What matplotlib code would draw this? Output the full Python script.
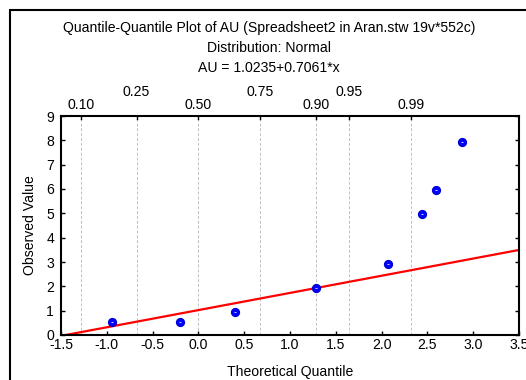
import matplotlib
matplotlib.use("Agg")
import matplotlib.pyplot as plt
import numpy as np
from matplotlib.patches import Rectangle

plt.rcParams['font.family'] = ['Liberation Sans', 'DejaVu Sans']

# data
theoretical = [-0.94, -0.20, 0.40, 1.28, 2.07, 2.44, 2.59, 2.88]
observed = [0.53, 0.53, 0.95, 1.95, 2.93, 4.97, 5.97, 7.95]
intercept, slope = 1.0235, 0.7061
prob_labels = ["0.10", "0.25", "0.50", "0.75", "0.90", "0.95", "0.99"]
prob_z = [-1.2816, -0.6745, 0.0, 0.6745, 1.2816, 1.6449, 2.3263]
x_ticks = [-1.5, -1.0, -0.5, 0.0, 0.5, 1.0, 1.5, 2.0, 2.5, 3.0, 3.5]
y_ticks = list(range(0, 10))

FS = 10.1
W, H = 526, 380
fig = plt.figure(figsize=(W / 100, H / 100), dpi=100)
ax = fig.add_axes([61 / W, 1 - 335 / H, (519 - 61) / W, (335 - 116) / H])

# outer frame
fig.patches.append(Rectangle((10 / W, -0.1), 1.2, 1 - 10 / H + 0.1, transform=fig.transFigure,
                             fill=False, edgecolor='black', linewidth=1.5, zorder=0))

for z in prob_z:
    ax.axvline(z, color='#c0c0c0', linestyle=(0, (3, 2)), linewidth=0.7, zorder=1)

xs = np.array([-1.5, 3.5])
ax.plot(xs, intercept + slope * xs, color='#ff0000', linewidth=1.6, zorder=2)
ax.scatter(theoretical, observed, s=34, color='#0000ff', edgecolors='#0000d0', linewidths=0.8, zorder=3)
ax.scatter(theoretical, observed, s=3, marker='_', color='#d0d0ff', linewidths=0.7, zorder=4)

ax.set_xlim(-1.5, 3.5)
ax.set_ylim(0, 9)
ax.set_xticks(x_ticks)
ax.set_xticklabels([f"{v:.1f}" for v in x_ticks])
ax.set_yticks(y_ticks)
ax.tick_params(direction='in', length=3, width=1, labelsize=FS,
               top=False, right=True)
ax.tick_params(axis='y', pad=5)
ax.tick_params(axis='x', pad=2)
for s in ax.spines.values():
    s.set_linewidth(1.5)

# top probability labels (staggered)
for lab, z in zip(prob_labels, prob_z):
    ax.plot([z, z], [9, 9 - 0.12], color='black', linewidth=1, clip_on=False, zorder=5)
    up = lab in ("0.25", "0.75", "0.95")
    ax.annotate(lab, xy=(z, 9), xycoords='data', xytext=(0, 17.3 if up else 8.0),
                textcoords='offset points', ha='center', va='center', fontsize=FS)

ax.set_xlabel("Theoretical Quantile", fontsize=FS, labelpad=9.5)
ax.set_ylabel("Observed Value", fontsize=FS, labelpad=6.5)

fig.text(269 / W, 1 - 28 / H, "Quantile-Quantile Plot of AU (Spreadsheet2 in Aran.stw 19v*552c)",
         ha='center', va='center', fontsize=FS)
fig.text(269 / W, 1 - 48 / H, "Distribution: Normal", ha='center', va='center', fontsize=FS)
fig.text(269 / W, 1 - 68 / H, "AU = 1.0235+0.7061*x", ha='center', va='center', fontsize=FS)

fig.savefig("out.png", dpi=100)
